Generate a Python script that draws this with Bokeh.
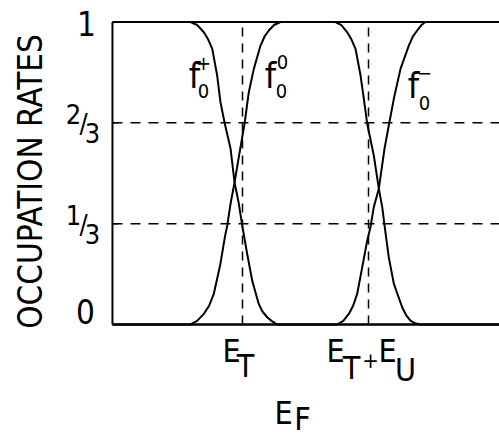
from bokeh.plotting import figure
from bokeh.models import Range1d, Label
from bokeh.embed import file_html
from bokeh.resources import INLINE

# ---------------- data ----------------
# Energy axis in units where E_T = 1 and E_T + E_U = 2; shown range E_MIN..E_MAX
E_MIN, E_MAX = -0.032, 3.04

e_plus = [E_MIN, 0.587, 0.640, 0.693, 0.728, 0.760, 0.799, 0.825, 0.860, 0.905, 0.937,
          0.971, 0.998, 1.037, 1.077, 1.129, 1.158, 1.196, 1.230, 1.275, E_MAX]
f_plus = [1.0, 1.0, 0.990, 0.966, 0.942, 0.911, 0.823, 0.735, 0.663, 0.582, 0.470,
          0.399, 0.327, 0.234, 0.145, 0.068, 0.043, 0.024, 0.012, 0.0, 0.0]

e_zero = [E_MIN, 0.587, 0.640, 0.693, 0.735, 0.772, 0.825, 0.860, 0.879, 0.905, 0.937,
          0.971, 1.016, 1.050, 1.090, 1.143, 1.175, 1.209, 1.250, 1.302, 1.738, 1.785,
          1.831, 1.865, 1.897, 1.937, 1.963, 1.990, 2.042, 2.082, 2.109, 2.129, 2.161,
          2.201, 2.267, 2.300, 2.333, 2.370, 2.413, E_MAX]
f_zero = [0.0, 0.0, 0.012, 0.035, 0.062, 0.101, 0.201, 0.289, 0.327, 0.399, 0.470,
          0.554, 0.663, 0.768, 0.845, 0.922, 0.952, 0.972, 0.990, 1.0, 1.0, 0.990,
          0.966, 0.942, 0.911, 0.823, 0.746, 0.663, 0.559, 0.449, 0.388, 0.322, 0.222,
          0.135, 0.057, 0.030, 0.013, 0.004, 0.0, 0.0]

e_minus = [E_MIN, 1.752, 1.800, 1.844, 1.878, 1.910, 1.950, 1.990, 2.016, 2.042, 2.082,
           2.127, 2.161, 2.201, 2.254, 2.320, 2.352, 2.387, 2.420, 2.452, E_MAX]
f_minus = [0.0, 0.0, 0.012, 0.035, 0.062, 0.101, 0.189, 0.278, 0.322, 0.388, 0.449,
           0.581, 0.658, 0.746, 0.845, 0.922, 0.952, 0.972, 0.990, 1.0, 1.0]

y_ticks = [0, 1/3, 2/3, 1]
y_tick_labels = ["0", "1/3", "2/3", "1"]
x_marks = [1.0, 2.0]          # E_T, E_T + E_U
y_title = "OCCUPATION RATES"

# ---------------- layout ----------------
FONT = "'DejaVu Sans Condensed', 'Liberation Sans Narrow', 'Liberation Sans', sans-serif"
W, H = 499, 438
PX_PER_E = 126.0          # picture pixels per energy unit
PX_E1 = 242.0             # picture x of E = 1
PY0, PY1 = 324.0, 21.5    # picture y of rate 0 and rate 1

def dx(px):
    return 1 + (px - PX_E1) / PX_PER_E
def dy(py):
    return (PY0 - py) / (PY0 - PY1)

p = figure(width=W, height=H, output_backend="svg", toolbar_location=None,
           x_range=Range1d(dx(0), dx(W)), y_range=Range1d(dy(H), dy(0)),
           min_border=0, x_axis_location=None, y_axis_location=None)
p.outline_line_color = None
p.grid.visible = False
p.background_fill_color = "white"
p.border_fill_color = "white"

# frame of the chart (axes): left, bottom, top
ymin, ymax = y_ticks[0], y_ticks[-1]
p.segment(x0=[E_MIN, E_MIN, E_MIN], y0=[ymin, ymin, ymax],
          x1=[E_MIN, E_MAX, E_MAX], y1=[ymax, ymin, ymax],
          line_color="black", line_width=2)
# inward ticks at the fractions
tick_len = 6 / PX_PER_E
p.segment(x0=[E_MIN] * 2, y0=y_ticks[1:3], x1=[E_MIN + tick_len] * 2, y1=y_ticks[1:3],
          line_color="black", line_width=1.5)

# dashed guide lines
p.segment(x0=[E_MIN] * 2, y0=y_ticks[1:3], x1=[E_MAX] * 2, y1=y_ticks[1:3],
          line_color="black", line_width=1.5, line_dash="10 8")
p.segment(x0=x_marks, y0=[ymin] * 2, x1=x_marks, y1=[ymax] * 2,
          line_color="black", line_width=1.5, line_dash="9 7")

for xs, ys in ((e_plus, f_plus), (e_zero, f_zero), (e_minus, f_minus)):
    p.line(xs, ys, line_color="black", line_width=2, line_join="round")

def lab(text, px, py, size, angle=0):
    p.add_layout(Label(x=dx(px), y=dy(py), text=text, text_font=FONT,
                       text_font_size=f"{size}px", text_align="center",
                       text_baseline="middle", text_color="black", angle=angle))

# y title
lab(y_title, 30, 181, 33, angle=1.5708)

# y tick labels
for yv, t in zip(y_ticks, y_tick_labels):
    ty = PY0 - yv * (PY0 - PY1)
    if "/" in t:
        num, den = t.split("/")
        lab(num, 73, ty - 9, 27)
        lab("/", 83, ty + 1, 27)
        lab(den, 92, ty + 10, 27)
    elif yv == 0:
        lab(t, 85, ty - 13, 33)
    else:
        lab(t, 86, ty + 1, 33)

# x mark labels
lab("E", 231, 350, 32); lab("T", 245, 365, 32)
lab("E", 335, 350, 32); lab("T", 351, 367, 32); lab("+", 370, 359, 22)
lab("E", 387, 350, 32); lab("U", 405, 369, 32)
# x title
lab("E", 283, 412, 32); lab("F", 302, 418, 32)

# curve labels
lab("f", 194, 75, 36); lab("0", 203, 90, 20); lab("+", 203, 62, 20)
lab("f", 270, 75, 36); lab("0", 281, 90, 20); lab("0", 282, 61, 20)
lab("f", 413, 85, 36); lab("0", 424, 102, 20); lab("\u2212", 424, 72, 20)

open("out.html", "w").write(file_html(p, INLINE))
